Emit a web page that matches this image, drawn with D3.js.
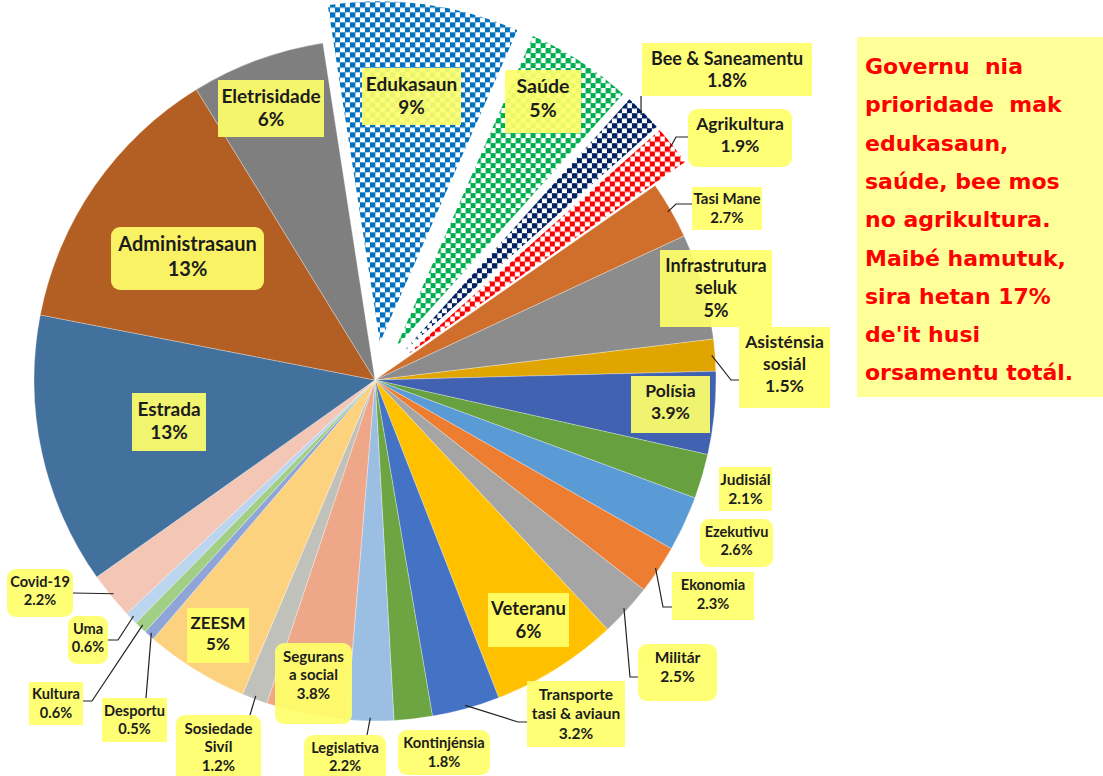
<!DOCTYPE html>
<html>
<head>
  <meta charset="utf-8">
  <title>Orsamentu 2021</title>
  <style>
    body { margin: 0; background: #fff; }
    text { font-family: "Lato", "Open Sans", sans-serif; font-weight: bold; }
    text.note { font-family: "DejaVu Sans", sans-serif; }
  </style>
</head>
<body>
<div id="chart"></div>
<script src="https://cdn.jsdelivr.net/npm/d3@7"></script>
<script>
// data (percent of total budget)
var categories = ["Edukasaun", "Saúde", "Bee & Saneamentu", "Agrikultura", "Tasi Mane",
                  "Infrastrutura seluk", "Asisténsia sosiál", "Polísia", "Judisiál", "Ezekutivu",
                  "Ekonomia", "Militár", "Veteranu", "Transporte tasi & aviaun", "Kontinjénsia",
                  "Legislativa", "Segurans a social", "Sosiedade Sivíl", "ZEESM", "Desportu",
                  "Kultura", "Uma", "Covid-19", "Estrada", "Administrasaun", "Eletrisidade"];
var shares = [9.0, 5.0, 1.8, 1.9, 2.7,
              5.0, 1.5, 3.9, 2.1, 2.6,
              2.3, 2.5, 6.0, 3.2, 1.8,
              2.2, 3.8, 1.2, 4.9, 0.5,
              0.6, 0.6, 2.2, 12.8, 13.1, 6.3];
var shownPct = ["9%", "5%", "1.8%", "1.9%", "2.7%",
                "5%", "1.5%", "3.9%", "2.1%", "2.6%",
                "2.3%", "2.5%", "6%", "3.2%", "1.8%",
                "2.2%", "3.8%", "1.2%", "5%", "0.5%",
                "0.6%", "0.6%", "2.2%", "13%", "13%", "6%"];
var nameLines = ["Edukasaun", "Saúde", "Bee & Saneamentu", "Agrikultura", "Tasi Mane",
                 "Infrastrutura|seluk", "Asisténsia|sosiál", "Polísia", "Judisiál", "Ezekutivu",
                 "Ekonomia", "Militár", "Veteranu", "Transporte|tasi & aviaun", "Kontinjénsia",
                 "Legislativa", "Segurans|a social", "Sosiedade|Sivíl", "ZEESM", "Desportu",
                 "Kultura", "Uma", "Covid-19", "Estrada", "Administrasaun", "Eletrisidade"];
var priority = ["Edukasaun", "Saúde", "Bee & Saneamentu", "Agrikultura"];
var noteLines = ["Governu  nia", "prioridade  mak", "edukasaun,", "saúde, bee mos",
                 "no agrikultura.", "Maibé hamutuk,", "sira hetan 17%", "de'it husi",
                 "orsamentu totál."];

var colors = ["#0070C0", "#00B050", "#002060", "#FF0000", "#CF6F2B",
              "#8C8C8C", "#E0A500", "#4062B0", "#67A03F", "#5B9BD5",
              "#ED7D31", "#A5A5A5", "#FFC000", "#4472C4", "#6DA543",
              "#9BBFE3", "#EFA78A", "#C0C1BB", "#FDD27F", "#8FA5D8",
              "#A2CF86", "#BCD5EE", "#F4C6B6", "#41719C", "#B35E22", "#7F7F7F"];

// label boxes placed by hand, like in the original
var labelLayout = {
  "Edukasaun":            {box: [362, 68, 461, 125], round: false, size: 19},
  "Saúde":                {box: [505, 70, 581, 133], round: false, size: 19.5},
  "Bee & Saneamentu":     {box: [642, 43, 812, 96], round: false, size: 18, leader: [[641, 96]]},
  "Agrikultura":          {box: [688, 109, 792, 167], round: true, size: 17.5, leader: [[688, 137], [676, 137]]},
  "Tasi Mane":            {box: [692, 187, 762, 230], round: false, size: 15, leader: [[692, 204], [676, 204]]},
  "Infrastrutura seluk":  {box: [660, 250, 772, 327], round: false, size: 18},
  "Asisténsia sosiál":    {box: [739, 327, 830, 408], round: false, size: 17.5, leader: [[739, 380], [731, 380]]},
  "Polísia":              {box: [631, 376, 710, 433], round: false, size: 17.5},
  "Judisiál":             {box: [719, 467, 772, 511], round: false, size: 15.5},
  "Ezekutivu":            {box: [700, 519, 773, 567], round: true, size: 14.5},
  "Ekonomia":             {box: [672, 572, 754, 620], round: false, size: 14.7, leader: [[672, 607], [663, 607]]},
  "Militár":              {box: [638, 644, 717, 701], round: true, size: 15.5, leader: [[638, 677], [630, 677]]},
  "Veteranu":             {box: [488, 593, 569, 647], round: false, size: 18.5},
  "Transporte tasi & aviaun": {box: [527, 681, 625, 747], round: false, size: 15.5, leader: [[527, 722], [518, 722]]},
  "Kontinjénsia":         {box: [398, 730, 490, 775], round: true, size: 14.7},
  "Legislativa":          {box: [304, 735, 386, 790], round: true, size: 14.5, leader: [[367, 735]]},
  "Segurans a social":    {box: [275, 643, 352, 724], round: true, size: 15},
  "Sosiedade Sivíl":      {box: [176, 715, 261, 795], round: true, size: 15, leader: [[250, 715]]},
  "ZEESM":                {box: [187, 608, 249, 663], round: false, size: 17},
  "Desportu":             {box: [102, 698, 167, 742], round: false, size: 14.6, leader: [[146, 698]]},
  "Kultura":              {box: [29, 682, 83, 725], round: false, size: 14.6, leader: [[83, 701], [92, 701]]},
  "Uma":                  {box: [68, 616, 108, 664], round: true, size: 14.6, leader: [[108, 640], [118, 640]]},
  "Covid-19":             {box: [7, 569, 73, 617], round: true, size: 14.6, leader: [[73, 593]]},
  "Estrada":              {box: [132, 393, 206, 451], round: false, size: 19},
  "Administrasaun":       {box: [111, 227, 264, 290], round: true, size: 20},
  "Eletrisidade":         {box: [218, 80, 324, 137], round: false, size: 19}
};

var w = 1103;
var h = 776;
var cx = 375, cy = 380;
var radius = 341;
var explode = 38;
var start = -8.8 * Math.PI / 180;

var svg = d3.select("#chart")
            .append("svg")
            .attr("width", w)
            .attr("height", h);

// checkerboard fills for the exploded slices
var defs = svg.append("defs");
priority.forEach(function (name) {
  var i = categories.indexOf(name);
  var p = defs.append("pattern")
              .attr("id", "chk" + i)
              .attr("patternUnits", "userSpaceOnUse")
              .attr("width", 10)
              .attr("height", 10);
  p.append("rect").attr("width", 10).attr("height", 10).attr("fill", "#fff");
  p.append("rect").attr("width", 5.4).attr("height", 5.4).attr("fill", colors[i]);
  p.append("rect").attr("x", 5).attr("y", 5).attr("width", 5.4).attr("height", 5.4).attr("fill", colors[i]);
});

var dataset = categories.map(function (c, i) {
  return {name: c, value: shares[i], idx: i};
});

var pie = d3.pie()
            .sort(null)
            .value(function (d) { return d.value; })
            .startAngle(start)
            .endAngle(start + 2 * Math.PI);

var arc = d3.arc().innerRadius(0).outerRadius(radius);
var arcs = pie(dataset);

function isExploded(d) {
  return priority.indexOf(d.data.name) >= 0;
}
function offset(d) {
  if (!isExploded(d)) return [0, 0];
  var a = (d.startAngle + d.endAngle) / 2;
  return [explode * Math.sin(a), -explode * Math.cos(a)];
}

var g = svg.append("g").attr("transform", "translate(" + cx + "," + cy + ")");

g.selectAll("path")
 .data(arcs)
 .enter()
 .append("path")
 .attr("d", arc)
 .attr("transform", function (d) {
   var o = offset(d);
   return "translate(" + o[0] + "," + o[1] + ")";
 })
 .attr("fill", function (d) {
   return isExploded(d) ? "url(#chk" + d.data.idx + ")" : colors[d.data.idx];
 })
 .attr("stroke", function (d) { return isExploded(d) ? "none" : "#fff"; })
 .attr("stroke-width", 0.6)
 .attr("stroke-opacity", 0.5);

// leader lines: box -> elbow -> slice edge
arcs.forEach(function (d) {
  var lay = labelLayout[d.data.name];
  if (!lay.leader) return;
  var a = (d.startAngle + d.endAngle) / 2;
  var o = offset(d);
  var end = [cx + o[0] + radius * 0.99 * Math.sin(a), cy + o[1] - radius * 0.99 * Math.cos(a)];
  var pts = lay.leader.concat([end]);
  svg.append("path")
     .attr("d", d3.line()(pts))
     .attr("fill", "none")
     .attr("stroke", "#222")
     .attr("stroke-width", 1.2);
});

// label boxes
var labels = svg.selectAll("g.lbl")
                .data(arcs)
                .enter()
                .append("g")
                .attr("class", "lbl");

labels.append("rect")
      .attr("x", function (d) { return labelLayout[d.data.name].box[0]; })
      .attr("y", function (d) { return labelLayout[d.data.name].box[1]; })
      .attr("width", function (d) { var b = labelLayout[d.data.name].box; return b[2] - b[0]; })
      .attr("height", function (d) { var b = labelLayout[d.data.name].box; return b[3] - b[1]; })
      .attr("rx", function (d) { return labelLayout[d.data.name].round ? 9 : 0; })
      .attr("fill", "#FFFF6A")
      .attr("fill-opacity", 0.92);

labels.each(function (d) {
  var lay = labelLayout[d.data.name];
  var lines = nameLines[d.data.idx].split("|").concat([shownPct[d.data.idx]]);
  var lh = lay.size * 1.25;
  var b = lay.box;
  var mx = (b[0] + b[2]) / 2;
  var my = Math.min((b[1] + b[3]) / 2, b[1] + (lines.length * lh) / 2 + 4);
  var t = d3.select(this).append("text")
            .attr("text-anchor", "middle")
            .attr("font-size", lay.size + "px")
            .attr("fill", "#1c1c1c");
  lines.forEach(function (ln, k) {
    t.append("tspan")
     .attr("x", mx)
     .attr("y", my + (k - (lines.length - 1) / 2) * lh)
     .attr("dy", "0.35em")
     .text(ln);
  });
});

// note box on the right
svg.append("rect")
   .attr("x", 857)
   .attr("y", 37)
   .attr("width", 246)
   .attr("height", 360)
   .attr("fill", "#FFFF99");

svg.append("g")
   .selectAll("text")
   .data(noteLines)
   .enter()
   .append("text")
   .attr("class", "note")
   .attr("x", 865)
   .attr("y", function (d, i) { return 74 + i * 38.3; })
   .attr("font-size", "22px")
   .attr("fill", "#FF0000")
   .style("white-space", "pre")
   .text(function (d) { return d; });
</script>
</body>
</html>
